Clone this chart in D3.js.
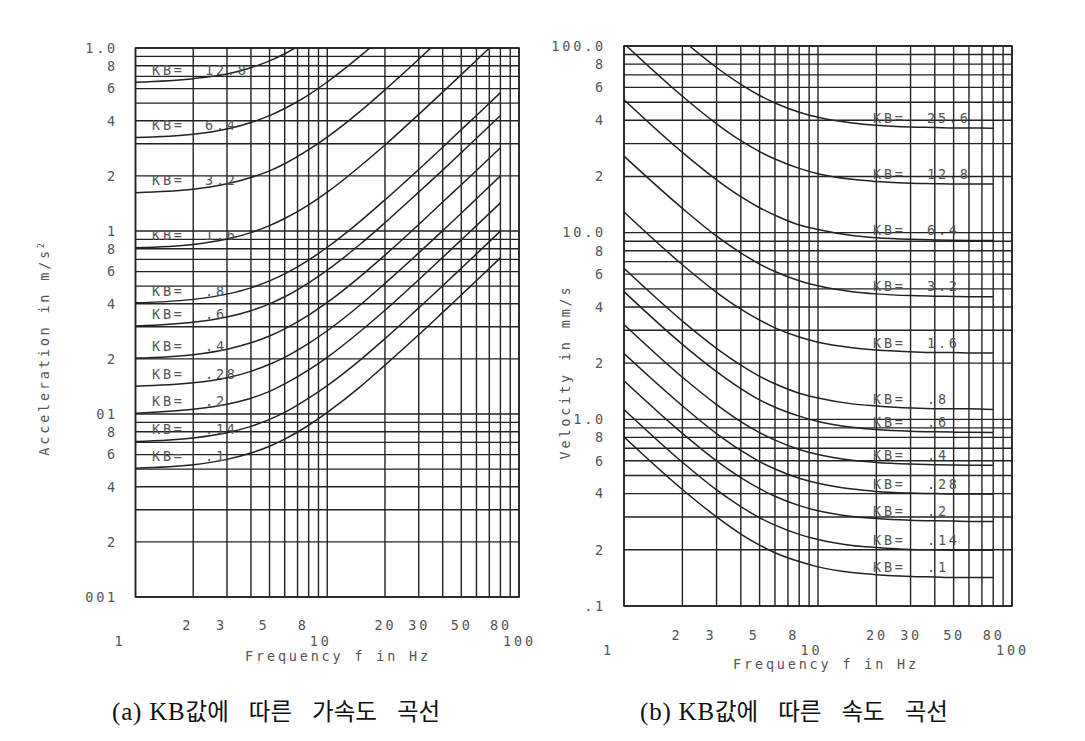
<!DOCTYPE html>
<html>
<head>
<meta charset="utf-8">
<script src="https://cdn.jsdelivr.net/npm/d3@7"></script>
<style>
  body{margin:0;background:#fff}
  svg text{font-family:"DejaVu Sans Mono",monospace;font-size:13.5px;fill:#555;letter-spacing:2.8px}
  .caption{font-family:"Liberation Serif","Noto Sans CJK KR",serif;font-size:25px;fill:#111;letter-spacing:0.8px}
  .caption .hangul{font-family:"Noto Sans CJK KR",sans-serif;font-size:23.5px;letter-spacing:0}
</style>
</head>
<body>
<svg id="chart" width="1085" height="741"></svg>
<script>
'use strict';

/* ───────── shared x axis ───────── */
const FREQ = [1,2,3,4,5,6,8,10,15,20,30,40,50,60,80];
const X_TICKS_TOP = [2,3,5,8,20,30,50,80];
const X_TICKS_LOW = [1,10,100];

/* ───────── (a) acceleration, m/s² ───────── */
const ACC_KB = ['12.8','6.4','3.2','1.6','.8','.6','.4','.28','.2','.14','.1'];
const ACC_CURVES = [
  [0.65,0.68,0.72,0.78,0.85,0.93,1.11,null,null,null,null,null,null,null,null],
  [0.324,0.338,0.361,0.392,0.427,0.467,0.555,0.652,0.911,1.18,null,null,null,null,null],
  [0.162,0.169,0.181,0.196,0.213,0.233,0.278,0.326,0.455,0.591,0.868,1.15,null,null,null],
  [0.081,0.0845,0.0904,0.098,0.107,0.117,0.139,0.163,0.228,0.295,0.434,0.574,0.715,0.857,1.14],
  [0.0405,0.0423,0.0452,0.0489,0.0534,0.0583,0.0694,0.0815,0.114,0.148,0.217,0.287,0.358,0.428,0.570],
  [0.0303,0.0317,0.0339,0.0367,0.0400,0.0437,0.0521,0.0611,0.0854,0.111,0.163,0.215,0.268,0.321,0.428],
  [0.0202,0.0211,0.0226,0.0245,0.0267,0.0292,0.0347,0.0407,0.0569,0.0738,0.1085,0.144,0.179,0.214,0.285],
  [0.0142,0.0148,0.0158,0.0171,0.0187,0.0204,0.0243,0.0285,0.0398,0.0517,0.0759,0.1005,0.125,0.150,0.200],
  [0.0101,0.0106,0.0113,0.0122,0.0133,0.0146,0.0174,0.0204,0.0285,0.0369,0.0542,0.0718,0.0894,0.107,0.1425],
  [0.00708,0.0074,0.0079,0.00856,0.00934,0.0102,0.0122,0.0143,0.0199,0.0258,0.038,0.0502,0.0626,0.075,0.0998],
  [0.00506,0.00528,0.00565,0.00612,0.00667,0.00729,0.00868,0.0102,0.0142,0.0185,0.0271,0.0359,0.0447,0.0536,0.0713]
];
const ACC_Y_TICKS  = [1,0.8,0.6,0.4,0.2,0.1,0.08,0.06,0.04,0.02,0.01,0.008,0.006,0.004,0.002,0.001];
const ACC_Y_LABELS = ['1.0','8','6','4','2','1','8','6','4','2','01','8','6','4','2','001'];

/* ───────── (b) velocity, mm/s ───────── */
const VEL_KB = ['25.6','12.8','6.4','3.2','1.6','.8','.6','.4','.28','.2','.14','.1'];
const VEL_CURVES = [
  [null,107.6,76.7,62.3,54.3,49.5,44.2,41.5,38.7,37.6,36.8,36.6,36.4,36.4,36.3],
  [103,53.8,38.3,31.1,27.2,24.8,22.1,20.7,19.3,18.8,18.4,18.3,18.2,18.2,18.2],
  [51.5,26.9,19.2,15.6,13.6,12.4,11.0,10.4,9.66,9.40,9.21,9.14,9.11,9.09,9.07],
  [25.7,13.5,9.58,7.79,6.79,6.19,5.52,5.19,4.83,4.70,4.60,4.57,4.55,4.54,4.54],
  [12.9,6.73,4.79,3.89,3.40,3.09,2.76,2.59,2.42,2.35,2.30,2.28,2.28,2.27,2.27],
  [6.44,3.36,2.40,1.95,1.70,1.55,1.38,1.30,1.21,1.18,1.15,1.14,1.14,1.14,1.13],
  [4.83,2.52,1.80,1.46,1.27,1.16,1.04,0.973,0.906,0.881,0.863,0.857,0.854,0.852,0.851],
  [3.22,1.68,1.20,0.973,0.849,0.774,0.690,0.648,0.604,0.588,0.576,0.571,0.569,0.568,0.567],
  [2.25,1.18,0.839,0.681,0.594,0.542,0.483,0.454,0.423,0.411,0.403,0.400,0.398,0.398,0.397],
  [1.61,0.841,0.599,0.487,0.425,0.387,0.345,0.324,0.302,0.294,0.288,0.286,0.285,0.284,0.284],
  [1.13,0.589,0.419,0.341,0.297,0.271,0.242,0.227,0.211,0.206,0.201,0.200,0.199,0.199,0.199],
  [0.805,0.421,0.300,0.243,0.212,0.193,0.173,0.162,0.151,0.147,0.144,0.143,0.142,0.142,0.142]
];
const VEL_Y_TICKS  = [100,80,60,40,20,10,8,6,4,2,1,0.8,0.6,0.4,0.2,0.1];
const VEL_Y_LABELS = ['100.0','8','6','4','2','10.0','8','6','4','2','1.0','8','6','4','2','.1'];

const svg = d3.select('#chart');
const INK = '#222';

function drawPanel(p){

  const x = d3.scaleLog().domain([1,100]).range([p.left,p.right]);
  const y = d3.scaleLog().domain(p.yDomain).range([p.bottom,p.top]);
  const g = svg.append('g');

  g.append('clipPath').attr('id',p.id+'-clip')
    .append('rect')
    .attr('x',p.left).attr('y',p.top)
    .attr('width',p.right-p.left).attr('height',p.bottom-p.top);

  // log grid
  g.append('g').selectAll('line')
    .data(x.ticks())
    .join('line')
    .attr('x1',d=>x(d)).attr('x2',d=>x(d))
    .attr('y1',p.top).attr('y2',p.bottom)
    .attr('stroke',INK).attr('stroke-width',1.4);

  g.append('g').selectAll('line')
    .data(y.ticks())
    .join('line')
    .attr('x1',p.left).attr('x2',p.right)
    .attr('y1',d=>y(d)).attr('y2',d=>y(d))
    .attr('stroke',INK).attr('stroke-width',1.4);

  g.append('rect')
    .attr('x',p.left).attr('y',p.top)
    .attr('width',p.right-p.left).attr('height',p.bottom-p.top)
    .attr('fill','none').attr('stroke',INK).attr('stroke-width',1.6);

  // curves
  const line = d3.line()
    .defined(d=>d!=null)
    .x((d,i)=>x(FREQ[i]))
    .y(d=>y(d))
    .curve(d3.curveMonotoneX);

  g.append('g').attr('clip-path',`url(#${p.id}-clip)`)
    .selectAll('path')
    .data(p.curves)
    .join('path')
    .attr('d',line)
    .attr('fill','none')
    .attr('stroke',INK)
    .attr('stroke-width',1.5);

  // KB labels
  const lab = g.append('g').selectAll('g')
    .data(p.curves)
    .join('g')
    .attr('transform',d=>{
      const v = p.labelAtEnd ? d[d.length-1] : d[0];
      const yy = Math.max(y(Math.min(v,p.yDomain[1])), p.top) - p.labelLift;
      return `translate(0,${yy})`;
    });
  lab.append('text').attr('x',p.kbX).attr('dy','0.35em').text('KB=');
  lab.append('text').attr('x',p.valX).attr('dy','0.35em').text((d,i)=>p.kb[i]);

  // axes
  const yAxis = d3.axisLeft(y)
    .tickValues(p.yTicks)
    .tickFormat((d,i)=>p.yLabels[i])
    .tickSize(0)
    .tickPadding(p.left-p.yLabelX);
  const ya = g.append('g').attr('transform',`translate(${p.left},0)`).call(yAxis);
  ya.select('.domain').remove();
  ya.selectAll('text').attr('font-family',null).attr('font-size',null);

  const xTop = d3.axisBottom(x).tickValues(X_TICKS_TOP).tickFormat(d3.format('d')).tickSize(0);
  const xa1 = g.append('g').attr('transform',`translate(0,${p.bottom+p.row1})`).call(xTop);
  xa1.select('.domain').remove();
  xa1.selectAll('text').attr('font-family',null).attr('font-size',null)
    .attr('dy','0.35em').attr('dx',d=>d<10?-6:0);

  const xLow = d3.axisBottom(x).tickValues(X_TICKS_LOW).tickFormat(d3.format('d')).tickSize(0);
  const xa2 = g.append('g').attr('transform',`translate(0,${p.bottom+p.row2})`).call(xLow);
  xa2.select('.domain').remove();
  xa2.selectAll('text').attr('font-family',null).attr('font-size',null)
    .attr('dy','0.35em').attr('dx',d=>d===1?-16:d===10?-7:0);

  // titles
  g.append('text')
    .attr('x',p.xTitleX).attr('y',p.xTitleY)
    .attr('dy','0.35em')
    .attr('text-anchor','middle')
    .text('Frequency f in Hz');

  const yt = g.append('text')
    .attr('transform',`translate(${p.yTitleX},${p.yTitleY}) rotate(-90)`)
    .attr('dy','0.35em')
    .attr('text-anchor','middle');
  yt.append('tspan').text(p.yTitle);
  if(p.yTitleSup){
    yt.append('tspan').attr('dy','-0.6em').attr('font-size','8px').text(p.yTitleSup);
  }

  // caption: "(a) KB" in serif latin, hangul words with wide gaps
  const words = p.caption.split(' ');
  const cap = g.append('text')
    .attr('class','caption')
    .attr('x',p.capX).attr('y',711)
    .attr('dy','0.35em');
  cap.append('tspan').text(words[0]+' '+words[1].slice(0,2));
  cap.append('tspan').attr('class','hangul').text(words[1].slice(2));
  words.slice(2).forEach(w=>{
    cap.append('tspan').attr('class','hangul').attr('dx',20).text(w);
  });
}

drawPanel({
  id:'acc',
  left:135.5, right:519, top:48, bottom:597,
  yDomain:[0.001,1],
  curves:ACC_CURVES, kb:ACC_KB,
  labelAtEnd:false, labelLift:12, kbX:152, valX:205,
  yTicks:ACC_Y_TICKS, yLabels:ACC_Y_LABELS, yLabelX:118,
  row1:25, row2:41,
  xTitleX:338, xTitleY:656,
  yTitleX:44, yTitleY:348, yTitle:'Acceleration in m/s', yTitleSup:'2',
  capX:112, caption:'(a) KB값에 따른 가속도 곡선'
});

drawPanel({
  id:'vel',
  left:624, right:1012, top:46, bottom:606,
  yDomain:[0.1,100],
  curves:VEL_CURVES, kb:VEL_KB,
  labelAtEnd:true, labelLift:10, kbX:873, valX:927,
  yTicks:VEL_Y_TICKS, yLabels:VEL_Y_LABELS, yLabelX:606,
  row1:26, row2:41,
  xTitleX:826, xTitleY:664,
  yTitleX:565, yTitleY:372, yTitle:'Velocity in mm/s', yTitleSup:null,
  capX:640, caption:'(b) KB값에 따른 속도 곡선'
});
</script>
</body>
</html>
